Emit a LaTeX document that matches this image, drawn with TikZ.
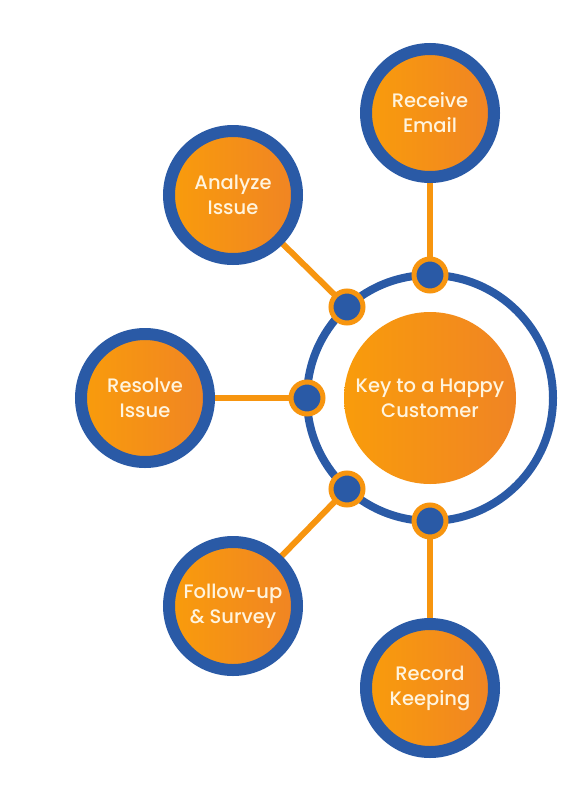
\documentclass[tikz,border=0pt]{standalone}
\usepackage{fontspec}
\setmainfont{Poppins}[UprightFont={* Medium}]
\usetikzlibrary{backgrounds}
\pgfdeclarelayer{links}
\pgfsetlayers{background,links,main}
\definecolor{ringblue}{HTML}{2A5AA6}
\definecolor{orL}{HTML}{F99C0B}
\definecolor{orR}{HTML}{F08424}
\definecolor{linkor}{HTML}{F7950F}
\definecolor{txt}{HTML}{FFF4DE}
\tikzset{
  sat/.style={circle, draw=ringblue, line width=12pt, minimum size=128pt, inner sep=0pt,
    left color=orL, right color=orR, text=txt, font=\fontsize{19.5}{25}\selectfont, align=center},
  hub/.style={circle, minimum size=172pt, inner sep=0pt, left color=orL, right color=orR,
    text=txt, font=\fontsize{19.5}{25}\selectfont, align=center},
  dot/.style={circle, draw=linkor, fill=ringblue, line width=5pt, minimum size=32pt, inner sep=0pt},
  link/.style={draw=linkor, line width=6pt}
}
\begin{document}
\begin{tikzpicture}[x=1pt,y=-1pt]
\useasboundingbox (0,0) rectangle (564,798);
\begin{pgfonlayer}{background}
\fill[white] (0,0) rectangle (564,798);
\end{pgfonlayer}
\draw[ringblue, line width=8pt] (430,398) circle[radius=123];
\node[hub] (hub) at (430,398) {Key to a Happy\\Customer};
\node[dot] (d1) at (430,275) {};
\node[dot] (d2) at (347,307) {};
\node[dot] (d3) at (307,398) {};
\node[dot] (d4) at (347,489) {};
\node[dot] (d5) at (430,521) {};
\node[sat] (s1) at (430,113) {Receive\\Email};
\node[sat] (s2) at (233,195) {Analyze\\Issue};
\node[sat] (s3) at (145,398) {Resolve\\Issue};
\node[sat] (s4) at (233,606) {Follow-up\\\& Survey};
\node[sat] (s5) at (430,688) {Record\\Keeping};
\begin{pgfonlayer}{links}
\draw[link] (s1.center) -- (d1.center);
\draw[link] (s2.center) -- (d2.center);
\draw[link] (s3.center) -- (d3.center);
\draw[link] (s4.center) -- (d4.center);
\draw[link] (s5.center) -- (d5.center);
\end{pgfonlayer}
\end{tikzpicture}
\end{document}
